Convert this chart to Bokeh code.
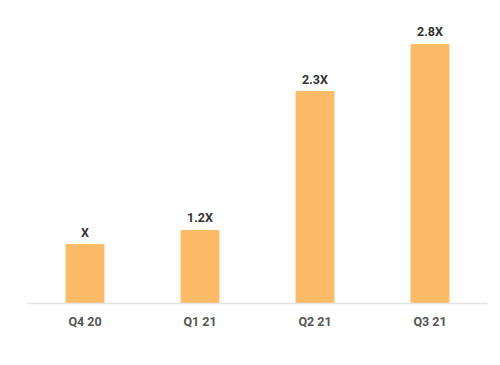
from bokeh.plotting import figure
from bokeh.models import ColumnDataSource, Range1d
from bokeh.core.properties import value
from bokeh.embed import file_html
from bokeh.resources import INLINE

quarters = ["Q4 20", "Q1 21", "Q2 21", "Q3 21"]
bar_values = [1.0, 1.24, 3.6, 4.4]
bar_labels = ["X", "1.2X", "2.3X", "2.8X"]

src = ColumnDataSource(dict(q=quarters, v=bar_values, lab=bar_labels))

p = figure(x_range=quarters, y_range=Range1d(0, 4.79), frame_width=460, frame_height=282,
           output_backend="svg", toolbar_location=None,
           min_border_left=27, min_border_right=5, min_border_top=21, min_border_bottom=40)
p.x_range.range_padding = 0
p.vbar(x="q", top="v", width=0.33, source=src, fill_color="#FDBB68", line_color="#FDBB68")
p.text(x="q", y="v", text="lab", source=src, y_offset=-5,
       text_align="center", text_baseline="bottom",
       text_font=value("Roboto"), text_font_style="bold", text_font_size="12.5px",
       text_color="#333333")

p.yaxis.visible = False
p.xgrid.grid_line_color = None
p.ygrid.grid_line_color = None
p.outline_line_color = None
p.xaxis.axis_line_color = "#e4e4e4"
p.xaxis.axis_line_width = 1.5
p.xaxis.major_tick_line_color = None
p.xaxis.minor_tick_line_color = None
p.xaxis.major_label_text_font = "Roboto"
p.xaxis.major_label_text_font_style = "bold"
p.xaxis.major_label_text_font_size = "12.5px"
p.xaxis.major_label_text_color = "#555555"
p.xaxis.major_label_standoff = 4

open("out.html", "w").write(file_html(p, INLINE))
